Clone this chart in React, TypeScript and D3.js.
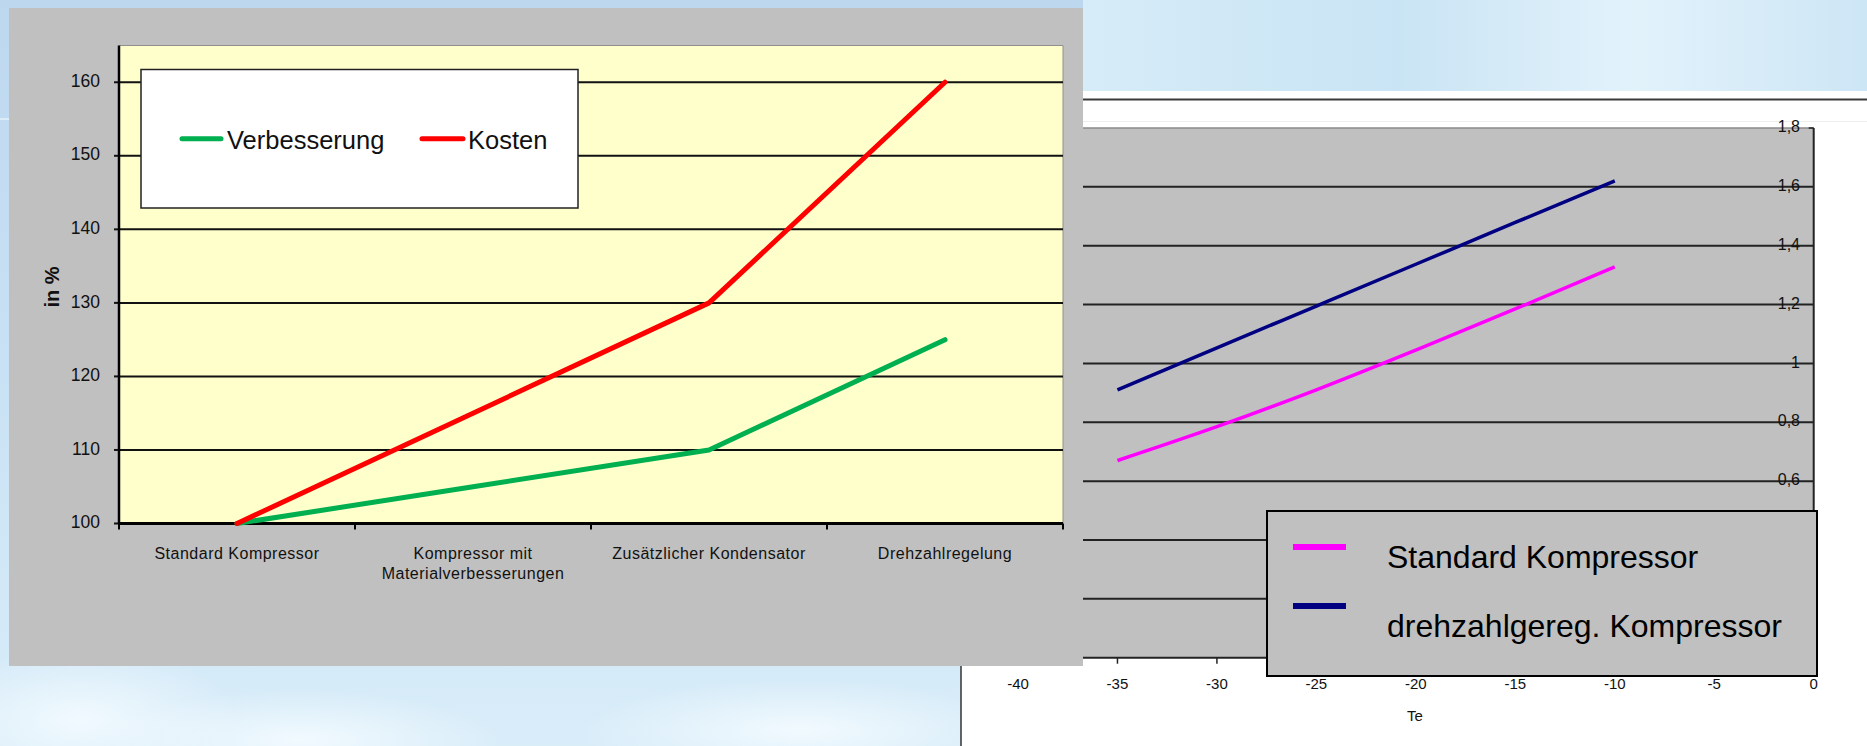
import React from "react";
import * as d3 from "d3";

// ---------- Left chart data ----------
const categories = [
  "Standard Kompressor",
  "Kompressor mit Materialverbesserungen",
  "Zusätzlicher Kondensator",
  "Drehzahlregelung",
];
const categoryLabelLines = [
  ["Standard Kompressor"],
  ["Kompressor mit", "Materialverbesserungen"],
  ["Zusätzlicher Kondensator"],
  ["Drehzahlregelung"],
];
const verbesserung = [100, 105, 110, 125];
const kosten = [100, 115, 130, 160];
const leftYTicks = [100, 110, 120, 130, 140, 150, 160];

// ---------- Right chart data ----------
const teValues = [-35, -30, -25, -20, -15, -10];
const standardKompressor = [0.67, 0.785, 0.91, 1.045, 1.185, 1.328];
const drehzahlKompressor = [0.91, 1.053, 1.195, 1.337, 1.479, 1.62];
const rightXTicks = [-40, -35, -30, -25, -20, -15, -10, -5, 0];
const rightYTicks = [0, 0.2, 0.4, 0.6, 0.8, 1, 1.2, 1.4, 1.6, 1.8];
const rightYLabels = ["0", "0,2", "0,4", "0,6", "0,8", "1", "1,2", "1,4", "1,6", "1,8"];

const FONT = "Arial, 'Liberation Sans', sans-serif";

export default function App() {
  const W = 1867;
  const H = 746;

  // Left chart geometry
  const L = { left: 119, right: 1063, top: 45.5, bottom: 523.5 };
  const xBand = d3.scaleBand<string>().domain(categories).range([L.left, L.right]);
  const yL = d3.scaleLinear().domain([100, 165]).range([L.bottom, L.top]);
  const cx = (c: string) => (xBand(c) as number) + xBand.bandwidth() / 2;
  const lineL = d3
    .line<number>()
    .x((_, i) => cx(categories[i]))
    .y((d) => yL(d));

  // Right chart geometry
  const R = { left: 1018, right: 1813.7, top: 128, bottom: 657.7 };
  const xR = d3.scaleLinear().domain([-40, 0]).range([R.left, R.right]);
  const yR = d3.scaleLinear().domain([0, 1.8]).range([R.bottom, R.top]);
  const lineR = d3
    .line<number>()
    .x((_, i) => xR(teValues[i]))
    .y((d) => yR(d))
    .curve(d3.curveMonotoneX);

  const bandEdges = categories.map((c) => xBand(c) as number).concat([L.right]);

  return (
    <svg
      width={W}
      height={H}
      style={{ position: "absolute", left: 0, top: 0, display: "block" }}
      fontFamily={FONT}
    >
      <defs>
        <linearGradient id="bg" x1="0" y1="0" x2="0" y2="1">
          <stop offset="0" stopColor="#bdd7ef" />
          <stop offset="0.5" stopColor="#c8e1f4" />
          <stop offset="1" stopColor="#d9edf9" />
        </linearGradient>
        <linearGradient id="topR" x1="0" y1="0" x2="1" y2="0">
          <stop offset="0" stopColor="#d6ecf8" />
          <stop offset="0.4" stopColor="#c9e4f4" />
          <stop offset="0.7" stopColor="#e2f2fb" />
          <stop offset="1" stopColor="#cde6f5" />
        </linearGradient>
        <radialGradient id="glow1" cx="0.5" cy="0.5" r="0.5">
          <stop offset="0" stopColor="#f4fbff" stopOpacity="0.9" />
          <stop offset="1" stopColor="#f4fbff" stopOpacity="0" />
        </radialGradient>
      </defs>

      {/* slide background */}
      <rect x={0} y={0} width={W} height={H} fill="url(#bg)" />
      <rect x={1083} y={0} width={W - 1083} height={91} fill="url(#topR)" />
      <ellipse cx={80} cy={720} rx={160} ry={70} fill="url(#glow1)" />
      <ellipse cx={300} cy={740} rx={200} ry={50} fill="url(#glow1)" />
      <ellipse cx={800} cy={730} rx={220} ry={50} fill="url(#glow1)" />
      <line x1={0} x2={9} y1={119} y2={119} stroke="#e6f2fb" strokeWidth={1.5} />

      {/* ---------- Right chart ---------- */}
      <rect x={961} y={91} width={W - 961} height={H - 91} fill="#ffffff" />
      <line x1={961} x2={W} y1={99.5} y2={99.5} stroke="#3a3a3a" strokeWidth={2} />
      <line x1={961} x2={W} y1={121.5} y2={121.5} stroke="#eeeeee" strokeWidth={1} />
      <line x1={961} x2={961} y1={99} y2={H} stroke="#333" strokeWidth={1.5} />

      <rect
        x={R.left}
        y={R.top}
        width={R.right - R.left}
        height={R.bottom - R.top}
        fill="#c0c0c0"
      />
      <line x1={R.left} x2={R.right} y1={R.top} y2={R.top} stroke="#8a8a8a" strokeWidth={1.5} />
      {rightYTicks
        .filter((t) => t > 0 && t < 1.8)
        .map((t) => (
          <line
            key={"rg" + t}
            x1={R.left}
            x2={R.right}
            y1={yR(t)}
            y2={yR(t)}
            stroke="#222"
            strokeWidth={2}
          />
        ))}
      {/* right axis */}
      <line x1={R.right} x2={R.right} y1={R.top} y2={R.bottom} stroke="#222" strokeWidth={2} />
      <line x1={R.right - 5} x2={R.right} y1={R.top} y2={R.top} stroke="#222" strokeWidth={1.5} />
      {/* x axis */}
      <line x1={R.left} x2={R.right} y1={R.bottom} y2={R.bottom} stroke="#222" strokeWidth={2} />
      {rightXTicks.map((t) => (
        <g key={"rx" + t}>
          <line
            x1={xR(t)}
            x2={xR(t)}
            y1={R.bottom}
            y2={R.bottom + 6}
            stroke="#222"
            strokeWidth={1.5}
          />
          <text
            x={xR(t)}
            y={685}
            textAnchor="middle"
            dominantBaseline="middle"
            fontSize={15}
            fill="#111"
          >
            {t === 0 ? "0" : "-" + Math.abs(t)}
          </text>
        </g>
      ))}
      <text x={1415} y={717} textAnchor="middle" dominantBaseline="middle" fontSize={15} fill="#111">
        Te
      </text>
      {rightYTicks.map((t, i) => (
        <text
          key={"ry" + t}
          x={1800}
          y={yR(t)}
          textAnchor="end"
          dominantBaseline="middle"
          fontSize={16}
          fill="#111"
        >
          {rightYLabels[i]}
        </text>
      ))}
      <path d={lineR(drehzahlKompressor) || ""} fill="none" stroke="#000080" strokeWidth={3.5} />
      <path d={lineR(standardKompressor) || ""} fill="none" stroke="#ff00ff" strokeWidth={3.5} />

      {/* right legend */}
      <rect x={1267} y={511} width={550} height={165} fill="#c0c0c0" stroke="#000" strokeWidth={2} />
      <line x1={1293} x2={1346} y1={547} y2={547} stroke="#ff00ff" strokeWidth={6} />
      <text x={1387} y={568} fontSize={32} fill="#000">
        Standard Kompressor
      </text>
      <line x1={1293} x2={1346} y1={606} y2={606} stroke="#000080" strokeWidth={6} />
      <text x={1387} y={637} fontSize={32} fill="#000">
        drehzahlgereg. Kompressor
      </text>

      {/* ---------- Left chart ---------- */}
      <rect x={9} y={8} width={1074} height={658} fill="#c0c0c0" />
      <rect
        x={L.left}
        y={L.top}
        width={L.right - L.left}
        height={L.bottom - L.top}
        fill="#ffffcc"
      />
      <line x1={L.left} x2={L.right} y1={L.top} y2={L.top} stroke="#909090" strokeWidth={1} />
      <line x1={L.right} x2={L.right} y1={L.top} y2={L.bottom} stroke="#909090" strokeWidth={1} />
      {leftYTicks
        .filter((t) => t > 100)
        .map((t) => (
          <line
            key={"lg" + t}
            x1={L.left}
            x2={L.right}
            y1={yL(t)}
            y2={yL(t)}
            stroke="#111"
            strokeWidth={2}
          />
        ))}
      {leftYTicks.map((t) => (
        <g key={"ly" + t}>
          <line x1={L.left - 5} x2={L.left} y1={yL(t)} y2={yL(t)} stroke="#111" strokeWidth={2} />
          <text
            x={100}
            y={yL(t)}
            textAnchor="end"
            dominantBaseline="middle"
            fontSize={17.5}
            fill="#111"
          >
            {t}
          </text>
        </g>
      ))}
      <text
        transform={`translate(59,287) rotate(-90)`}
        textAnchor="middle"
        fontSize={20}
        fontWeight="bold"
        fill="#111"
      >
        in %
      </text>
      {/* axes */}
      <line x1={L.left} x2={L.left} y1={L.top} y2={L.bottom} stroke="#000" strokeWidth={2.5} />
      <line x1={L.left} x2={L.right} y1={L.bottom} y2={L.bottom} stroke="#000" strokeWidth={3} />
      {bandEdges.map((x, i) => (
        <line key={"bt" + i} x1={x} x2={x} y1={L.bottom} y2={L.bottom + 6} stroke="#000" strokeWidth={2} />
      ))}
      {categories.map((c, i) => (
        <text key={"cl" + i} textAnchor="middle" fontSize={16} fill="#111" letterSpacing={0.5}>
          {categoryLabelLines[i].map((ln, j) => (
            <tspan key={j} x={cx(c)} y={559 + j * 19.5}>
              {ln}
            </tspan>
          ))}
        </text>
      ))}

      {/* legend */}
      <rect x={141} y={69.5} width={437} height={138.5} fill="#ffffff" stroke="#222" strokeWidth={1.5} />
      <line x1={182} x2={221} y1={138.7} y2={138.7} stroke="#00b050" strokeWidth={5} strokeLinecap="round" />
      <text x={227} y={149.3} fontSize={25.5} fill="#111">
        Verbesserung
      </text>
      <line x1={422} x2={463} y1={138.7} y2={138.7} stroke="#ff0000" strokeWidth={5} strokeLinecap="round" />
      <text x={468} y={149.3} fontSize={25.5} fill="#111">
        Kosten
      </text>

      {/* series */}
      <path
        d={lineL(verbesserung) || ""}
        fill="none"
        stroke="#00b050"
        strokeWidth={5}
        strokeLinejoin="round"
        strokeLinecap="round"
      />
      <path
        d={lineL(kosten) || ""}
        fill="none"
        stroke="#ff0000"
        strokeWidth={5}
        strokeLinejoin="round"
        strokeLinecap="round"
      />
    </svg>
  );
}
